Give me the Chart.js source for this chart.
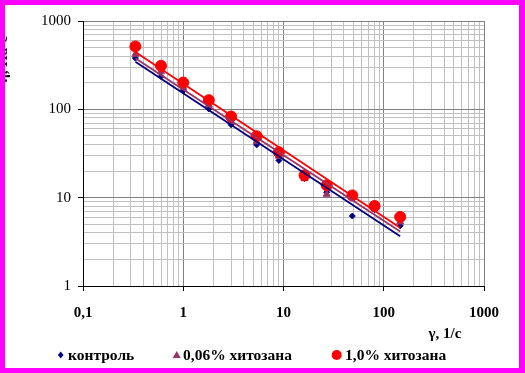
<!DOCTYPE html>
<html><head><meta charset="utf-8">
<script src="https://cdn.jsdelivr.net/npm/chart.js@4.4.0/dist/chart.umd.min.js"></script>
<style>
html,body{margin:0;padding:0;background:#fff;}
#frame{position:absolute;left:0;top:0;width:514px;height:363px;border-style:solid;border-color:#ff00ff;border-width:5px 6px 5px 5px;background:#fff;overflow:hidden;}
canvas{display:block;}
</style></head><body>
<div id="frame"><canvas id="c" width="514" height="363"></canvas></div>
<script>
// ---- data ----
const shearRates = [0.333, 0.6, 1, 1.8, 3, 5.4, 9, 16.2, 27, 48.6, 81, 145.8];
const control    = [380, 235, 162, 101, 67, 39.6, 26.4, 16.5, 11.5, 6.2, 7.3, 4.8];
const chit006    = [420, 266, 177, 112, 73, 43, 29.5, 16.4, 10.9, 10, 7.6, 5.3];
const chit10     = [515, 311, 201, 127, 83, 49.6, 32.7, 17.9, 13.8, 10.6, 8.05, 6.05];
const seriesLabels = ['контроль', '0,06% хитозана', '1,0% хитозана'];
const xTickValues = [0.1, 1, 10, 100, 1000];
const xTickLabels = ['0,1', '1', '10', '100', '1000'];
const yTickValues = [1, 10, 100, 1000];
const yTickLabels = ['1', '10', '100', '1000'];
const xTitle = 'γ, 1/с';
const yTitle = 'η, Па·с';

const colors = ['#000080', '#993366', '#ff0000'];
const styles = ['rectRot', 'triangle', 'circle'];
const radii = [3, 4, 5.5];

function logGrid(min, max){
  const out = [];
  for (let e = Math.round(Math.log10(min)); e < Math.round(Math.log10(max)); e++){
    for (let m = 1; m < 10; m++) out.push(m * Math.pow(10, e));
  }
  out.push(max);
  return out;
}
function isMajor(v){ const l = Math.log10(v); return Math.abs(l - Math.round(l)) < 1e-9; }
function labelFor(v, vals, labs){
  for (let i = 0; i < vals.length; i++) if (Math.abs(vals[i] - v) / vals[i] < 1e-9) return labs[i];
  return '';
}
function powerFit(xs, ys){
  const n = xs.length; let sx=0, sy=0, sxx=0, sxy=0;
  for (let i = 0; i < n; i++){ const lx=Math.log(xs[i]), ly=Math.log(ys[i]); sx+=lx; sy+=ly; sxx+=lx*lx; sxy+=lx*ly; }
  const b = (n*sxy - sx*sy) / (n*sxx - sx*sx); const a = (sy - b*sx) / n;
  return x => Math.exp(a) * Math.pow(x, b);
}
const allSeries = [control, chit006, chit10];

const datasets = [];
allSeries.forEach((ys, k) => {
  const f = powerFit(shearRates, ys);
  const x0 = shearRates[0], x1 = shearRates[shearRates.length-1];
  datasets.push({
    label: seriesLabels[k] + ' trend', data: [{x:x0, y:f(x0)}, {x:x1, y:f(x1)}],
    showLine: true, borderColor: colors[k], borderWidth: 1.8, pointRadius: 0, fill: false, order: 0
  });
});
allSeries.forEach((ys, k) => {
  datasets.push({
    label: seriesLabels[k], data: shearRates.map((x, i) => ({x, y: ys[i]})),
    showLine: false, pointStyle: styles[k], pointRadius: radii[k], pointHoverRadius: radii[k],
    backgroundColor: colors[k], borderColor: colors[k], borderWidth: 1, order: 3 - k
  });
});

const FONT = '"Liberation Serif", "Times New Roman", serif';
Chart.defaults.font.family = FONT;
Chart.defaults.color = '#000';

const decor = {
  id: 'decor',
  afterDraw(chart){
    const ctx = chart.ctx;
    ctx.save();
    ctx.fillStyle = '#000';
    // clipped y title
    ctx.save();
    ctx.translate(1.5, 31);
    ctx.rotate(-Math.PI/2);
    ctx.font = 'bold 15px ' + FONT;
    ctx.textAlign = 'right'; ctx.textBaseline = 'alphabetic';
    ctx.fillText(yTitle, 0, 0);
    ctx.restore();
    // x title
    ctx.font = 'bold 15px ' + FONT;
    ctx.textAlign = 'center'; ctx.textBaseline = 'alphabetic';
    ctx.fillText(xTitle, 440, 333);
    // legend
    const lx = [[55.7, 63], [171.7, 178], [331.7, 340]];
    const ly = 350;
    ctx.font = 'bold 15.5px ' + FONT;
    ctx.textAlign = 'left';
    for (let k = 0; k < 3; k++){
      ctx.fillStyle = colors[k];
      const cx = lx[k][0];
      ctx.beginPath();
      if (k === 0){ ctx.moveTo(cx, ly-3.5); ctx.lineTo(cx+2.8, ly); ctx.lineTo(cx, ly+3.5); ctx.lineTo(cx-2.8, ly); }
      else if (k === 1){ ctx.moveTo(cx, ly-4); ctx.lineTo(cx+4, ly+3); ctx.lineTo(cx-4, ly+3); }
      else { ctx.arc(cx, ly, 5, 0, Math.PI*2); }
      ctx.closePath(); ctx.fill();
      ctx.fillStyle = '#000';
      ctx.fillText(seriesLabels[k], lx[k][1], ly + 4.5);
    }
    ctx.restore();
  }
};

new Chart(document.getElementById('c'), {
  type: 'scatter',
  data: { datasets },
  options: {
    responsive: false, animation: false, devicePixelRatio: 1,
    layout: { padding: { left: 0, top: 15, right: 35, bottom: 0 } },
    plugins: { legend: { display: false }, tooltip: { enabled: false } },
    scales: {
      x: {
        type: 'logarithmic', min: 0.1, max: 1000,
        afterBuildTicks: s => { s.ticks = logGrid(0.1, 1000).map(v => ({value: v, major: isMajor(v)})); },
        afterFit: s => { s.height = 82; },
        ticks: { autoSkip: false, maxRotation: 0, padding: 13, font: { size: 15, weight: 'bold' },
                 callback: v => labelFor(v, xTickValues, xTickLabels) },
        grid: { color: c => isMajor(c.tick.value) ? '#808080' : '#c0c0c0', lineWidth: 1,
                tickLength: 5, tickColor: c => isMajor(c.tick.value) ? '#000' : 'rgba(0,0,0,0)' },
        border: { display: true, color: '#000', width: 1 }
      },
      y: {
        type: 'logarithmic', min: 1, max: 1000,
        afterBuildTicks: s => { s.ticks = logGrid(1, 1000).map(v => ({value: v, major: isMajor(v)})); },
        afterFit: s => { s.width = 78; },
        ticks: { autoSkip: false, padding: 7, font: { size: 15 },
                 callback: v => labelFor(v, yTickValues, yTickLabels) },
        grid: { color: c => isMajor(c.tick.value) ? '#808080' : '#c0c0c0', lineWidth: 1,
                tickLength: 5, tickColor: c => isMajor(c.tick.value) ? '#000' : 'rgba(0,0,0,0)' },
        border: { display: true, color: '#000', width: 1 }
      }
    }
  },
  plugins: [decor]
});
</script>
</body></html>
